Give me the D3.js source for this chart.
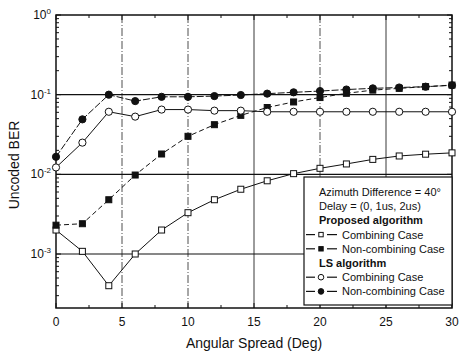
<!DOCTYPE html>
<head>
  <meta charset="UTF-8">
  <title>BER</title>
  <style>
  body{ margin:0; background:#fff; }
  text{ font-family: "Liberation Sans", Arial, sans-serif; fill:#111; }
  </style>
</head>
<body>
  <script src="https://cdn.jsdelivr.net/npm/d3@7"></script>
  <script type="text/javascript">
  // data
  var spread = [0, 2, 4, 6, 8, 10, 12, 14, 16, 18, 20, 22, 24, 26, 28, 30];
  var propComb = [2.0e-3, 1.08e-3, 4.0e-4, 1.0e-3, 2.0e-3, 3.3e-3, 4.8e-3, 6.5e-3, 8.3e-3, 1.02e-2, 1.19e-2, 1.35e-2, 1.54e-2, 1.70e-2, 1.79e-2, 1.86e-2];
  var propNon = [2.3e-3, 2.4e-3, 4.8e-3, 9.8e-3, 1.8e-2, 3.0e-2, 4.2e-2, 5.5e-2, 6.9e-2, 8.1e-2, 9.2e-2, 0.104, 0.114, 0.12, 0.126, 0.132];
  var lsComb = [1.22e-2, 2.5e-2, 6.1e-2, 5.3e-2, 6.5e-2, 6.5e-2, 6.3e-2, 6.3e-2, 6.1e-2, 6.1e-2, 6.1e-2, 6.1e-2, 6.1e-2, 6.1e-2, 6.1e-2, 6.1e-2];
  var lsNon = [1.66e-2, 4.9e-2, 0.10, 8.3e-2, 9.4e-2, 9.4e-2, 9.6e-2, 9.9e-2, 0.103, 0.107, 0.111, 0.116, 0.12, 0.123, 0.126, 0.131];
  var xTicks = [0, 5, 10, 15, 20, 25, 30];
  var yExp = [0, -1, -2, -3];

  var series = [
    {vals: propComb, shape: 'square', fill: '#fff', dash: null},
    {vals: propNon, shape: 'square', fill: '#111', dash: '5,3'},
    {vals: lsComb, shape: 'circle', fill: '#fff', dash: null},
    {vals: lsNon, shape: 'circle', fill: '#111', dash: '7,2'}
  ];

  var W = 464, H = 352;
  var L = 56, R = 452, T = 15, B = 308;

  var svg = d3.select('body').append('svg')
    .attr('width', W).attr('height', H);
  svg.append('rect').attr('width', W).attr('height', H).attr('fill', '#fff');

  var x = d3.scaleLinear().domain([0, 30]).range([L, R]);
  var y = d3.scaleLog().domain([2.1e-4, 1]).range([B, T]);

  //网格
  var g = svg.append('g');
  xTicks.slice(1, -1).forEach(function(t){
    var solid = (t == 15 || t == 25);
    g.append('line')
      .attr('x1', x(t)).attr('x2', x(t)).attr('y1', T).attr('y2', B)
      .attr('stroke', '#222').attr('stroke-width', solid ? 0.9 : 0.8)
      .attr('stroke-dasharray', solid ? null : '8,2,1,2');
  });
  yExp.slice(1).forEach(function(e){
    g.append('line')
      .attr('x1', L).attr('x2', R).attr('y1', y(Math.pow(10, e))).attr('y2', y(Math.pow(10, e)))
      .attr('stroke', '#111').attr('stroke-width', 1.2);
  });

  //刻度
  var minorX = d3.range(0, 30.01, 2.5);
  minorX.forEach(function(t){
    var len = (t % 5 == 0) ? 5 : 3;
    g.append('line').attr('x1', x(t)).attr('x2', x(t)).attr('y1', B).attr('y2', B - len).attr('stroke', '#111');
    g.append('line').attr('x1', x(t)).attr('x2', x(t)).attr('y1', T).attr('y2', T + len).attr('stroke', '#111');
  });
  var yt = y.ticks();
  yt.forEach(function(v){
    var major = Math.abs(Math.log10(v) - Math.round(Math.log10(v))) < 1e-6;
    var len = major ? 5 : 3;
    g.append('line').attr('x1', L).attr('x2', L + len).attr('y1', y(v)).attr('y2', y(v)).attr('stroke', '#111');
    g.append('line').attr('x1', R).attr('x2', R - len).attr('y1', y(v)).attr('y2', y(v)).attr('stroke', '#111');
  });

  svg.append('rect').attr('x', L).attr('y', T).attr('width', R - L).attr('height', B - T)
    .attr('fill', 'none').attr('stroke', '#111').attr('stroke-width', 1.5);

  //轴标签
  svg.selectAll('.xl').data(xTicks).enter().append('text')
    .attr('x', function(d){ return x(d); }).attr('y', 326)
    .attr('text-anchor', 'middle').attr('font-size', 12).text(function(d){ return d; });

  yExp.forEach(function(e){
    var t = svg.append('text').attr('x', 51).attr('y', y(Math.pow(10, e)) + 4)
      .attr('text-anchor', 'end').attr('font-size', 12);
    t.append('tspan').text('10');
    t.append('tspan').attr('dy', -5).attr('font-size', 8).text(e);
  });

  svg.append('text').attr('x', 254).attr('y', 348).attr('text-anchor', 'middle')
    .attr('font-size', 14).text('Angular Spread (Deg)');
  svg.append('text').attr('transform', 'translate(19,165) rotate(-90)').attr('text-anchor', 'middle')
    .attr('font-size', 14).text('Uncoded BER');

  //数据线
  function marker(sel, s, cx, cy, sz){
    if (s.shape == 'square') {
      sel.append('rect').attr('x', cx - sz).attr('y', cy - sz).attr('width', 2 * sz).attr('height', 2 * sz)
        .attr('fill', s.fill).attr('stroke', '#111').attr('stroke-width', 1);
    } else {
      sel.append('circle').attr('cx', cx).attr('cy', cy).attr('r', sz + 0.6)
        .attr('fill', s.fill).attr('stroke', '#111').attr('stroke-width', 1);
    }
  }
  var line = d3.line().x(function(d, i){ return x(spread[i]); }).y(function(d){ return y(d); });
  series.forEach(function(s){
    svg.append('path').attr('d', line(s.vals)).attr('fill', 'none')
      .attr('stroke', '#111').attr('stroke-width', 1).attr('stroke-dasharray', s.dash);
  });
  series.forEach(function(s){
    var mg = svg.append('g');
    s.vals.forEach(function(v, i){ marker(mg, s, x(spread[i]), y(v), 3); });
  });

  //图例
  var lg = svg.append('g');
  lg.append('rect').attr('x', 304).attr('y', 177).attr('width', 148).attr('height', 128)
    .attr('fill', '#fff').attr('stroke', '#111').attr('stroke-width', 1.2);
  var rows = [
    {t: 'Azimuth Difference = 40\u00b0', bold: false},
    {t: 'Delay = (0, 1us, 2us)', bold: false},
    {t: 'Proposed algorithm', bold: true},
    {t: 'Combining Case', s: series[0]},
    {t: 'Non-combining Case', s: series[1]},
    {t: 'LS algorithm', bold: true},
    {t: 'Combining Case', s: series[2]},
    {t: 'Non-combining Case', s: series[3]}
  ];
  rows.forEach(function(r, i){
    var yy = 192 + i * 14.2;
    if (r.s) {
      lg.append('line').attr('x1', 306).attr('x2', 315).attr('y1', yy).attr('y2', yy)
        .attr('stroke', '#111').attr('stroke-width', 1.2);
      lg.append('line').attr('x1', 327).attr('x2', 337).attr('y1', yy).attr('y2', yy)
        .attr('stroke', '#111').attr('stroke-width', 1.2);
      marker(lg, r.s, 321, yy, 2.2);
      lg.append('text').attr('x', 342).attr('y', yy + 4).attr('font-size', 11).text(r.t);
    } else {
      lg.append('text').attr('x', 319).attr('y', yy + 4).attr('font-size', 11)
        .attr('font-weight', r.bold ? 'bold' : 'normal').text(r.t);
    }
  });
  </script>
</body>
</html>
